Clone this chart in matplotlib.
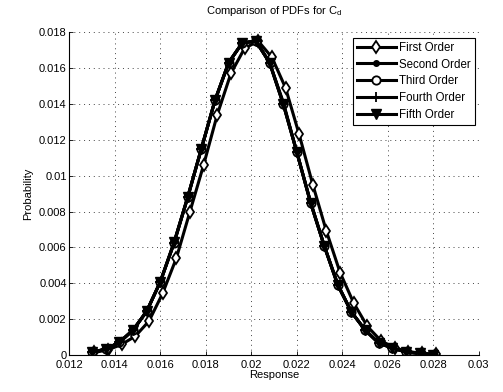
import matplotlib
matplotlib.use("Agg")
import matplotlib.pyplot as plt

plt.rcParams['font.family'] = ['Liberation Sans', 'DejaVu Sans']
plt.rcParams['font.size'] = 8

# Response bin centres
x = [0.0130, 0.0136, 0.0142, 0.0148, 0.0154, 0.0160, 0.0166, 0.0172, 0.0178,
     0.0184, 0.0190, 0.0196, 0.0202, 0.0208, 0.0214, 0.0220, 0.0226, 0.0232,
     0.0238, 0.0244, 0.0250, 0.0256, 0.0262, 0.0268, 0.0274, 0.0280]
x_first = [0.0131, 0.0137, 0.0143, 0.0149, 0.0155, 0.0161, 0.0167, 0.0173, 0.0179,
           0.0185, 0.0191, 0.0197, 0.0203, 0.0209, 0.0215, 0.0221, 0.0227, 0.0233,
           0.0239, 0.0245, 0.0251, 0.0257, 0.0263, 0.0269, 0.0275, 0.0281]

first_order = [0.00015, 0.00030, 0.00060, 0.00106, 0.00190, 0.00345, 0.00540, 0.00800,
               0.01060, 0.01340, 0.01570, 0.01710, 0.01750, 0.01660, 0.01490, 0.01230,
               0.00950, 0.00690, 0.00460, 0.00290, 0.00160, 0.00080, 0.00040, 0.00020,
               0.00010, 0.00004]
second_order = [0.00017, 0.00034, 0.00072, 0.00140, 0.00245, 0.00410, 0.00625, 0.00880,
                0.01150, 0.01420, 0.01630, 0.01740, 0.01750, 0.01630, 0.01410, 0.01130,
                0.00855, 0.00610, 0.00395, 0.00240, 0.00140, 0.00068, 0.00040, 0.00017,
                0.00010, 0.00003]
third_order = [0.00017, 0.00033, 0.00072, 0.00140, 0.00245, 0.00410, 0.00625, 0.00880,
               0.01150, 0.01420, 0.01630, 0.01740, 0.01750, 0.01630, 0.01400, 0.01130,
               0.00850, 0.00610, 0.00390, 0.00240, 0.00140, 0.00067, 0.00040, 0.00017,
               0.00010, 0.00003]
fourth_order = [0.00017, 0.00033, 0.00072, 0.00140, 0.00245, 0.00410, 0.00625, 0.00880,
                0.01150, 0.01420, 0.01630, 0.01740, 0.01750, 0.01630, 0.01400, 0.01130,
                0.00850, 0.00610, 0.00390, 0.00240, 0.00140, 0.00067, 0.00040, 0.00017,
                0.00010, 0.00003]
fifth_order = [0.00017, 0.00033, 0.00072, 0.00140, 0.00245, 0.00410, 0.00630, 0.00880,
               0.01150, 0.01420, 0.01630, 0.01740, 0.01750, 0.01630, 0.01400, 0.01130,
               0.00850, 0.00610, 0.00390, 0.00240, 0.00140, 0.00067, 0.00040, 0.00017,
               0.00010, 0.00003]

labels = ['First Order', 'Second Order', 'Third Order', 'Fourth Order', 'Fifth Order']
xticks = [0.012, 0.014, 0.016, 0.018, 0.02, 0.022, 0.024, 0.026, 0.028, 0.03]
xticklabels = ['0.012', '0.014', '0.016', '0.018', '0.02', '0.022', '0.024', '0.026', '0.028', '0.03']
yticks = [0, 0.002, 0.004, 0.006, 0.008, 0.01, 0.012, 0.014, 0.016, 0.018]
yticklabels = ['0', '0.002', '0.004', '0.006', '0.008', '0.01', '0.012', '0.014', '0.016', '0.018']

fig = plt.figure(figsize=(5.03, 3.92), dpi=100)
ax = fig.add_axes([0.138, 0.094, 0.814, 0.824])

lw = 2.2
ax.plot(x_first, first_order, color='k', lw=lw, marker='d', ms=6.5, mfc='white', mec='k', mew=1.3, label=labels[0])
ax.plot(x, second_order, color='k', lw=lw, marker='o', ms=4, mfc='k', mec='k', label=labels[1])
ax.plot(x, third_order, color='k', lw=lw, marker='o', ms=6, mfc='white', mec='k', mew=1.3, label=labels[2])
ax.plot(x, fourth_order, color='k', lw=lw, marker='+', ms=7, mec='k', mew=1.3, label=labels[3])
ax.plot(x, fifth_order, color='k', lw=lw, marker='v', ms=7.5, mfc='k', mec='k', label=labels[4])

ax.set_xlim(0.012, 0.03)
ax.set_ylim(0, 0.018)
ax.set_xticks(xticks)
ax.set_xticklabels(xticklabels)
ax.set_yticks(yticks)
ax.set_yticklabels(yticklabels)
ax.tick_params(direction='in', length=3, width=0.6, colors='k', labelsize=8)
ax.tick_params(axis='x', pad=3.5)
ax.tick_params(axis='y', pad=2)

ax.spines['top'].set_visible(False)
ax.spines['right'].set_visible(False)
ax.spines['left'].set_linewidth(0.8)
ax.spines['bottom'].set_linewidth(0.8)

ax.grid(True, linestyle=(0, (1, 4)), color='#444444', linewidth=0.7)
ax.set_axisbelow(True)

ax.set_title('Comparison of PDFs for C$_\\mathregular{d}$', fontsize=8, pad=13)
ax.set_xlabel('Response', fontsize=8, labelpad=0)
ax.set_ylabel('Probability', fontsize=8, labelpad=4)

leg = ax.legend(loc='upper right', bbox_to_anchor=(0.99, 0.983), fontsize=8.3, frameon=True,
                fancybox=False, framealpha=1, edgecolor='k', handlelength=3.3,
                borderpad=0.35, labelspacing=0.42, handletextpad=0.3, borderaxespad=0)
leg.get_frame().set_linewidth(0.8)

fig.savefig('out.png', dpi=100)
